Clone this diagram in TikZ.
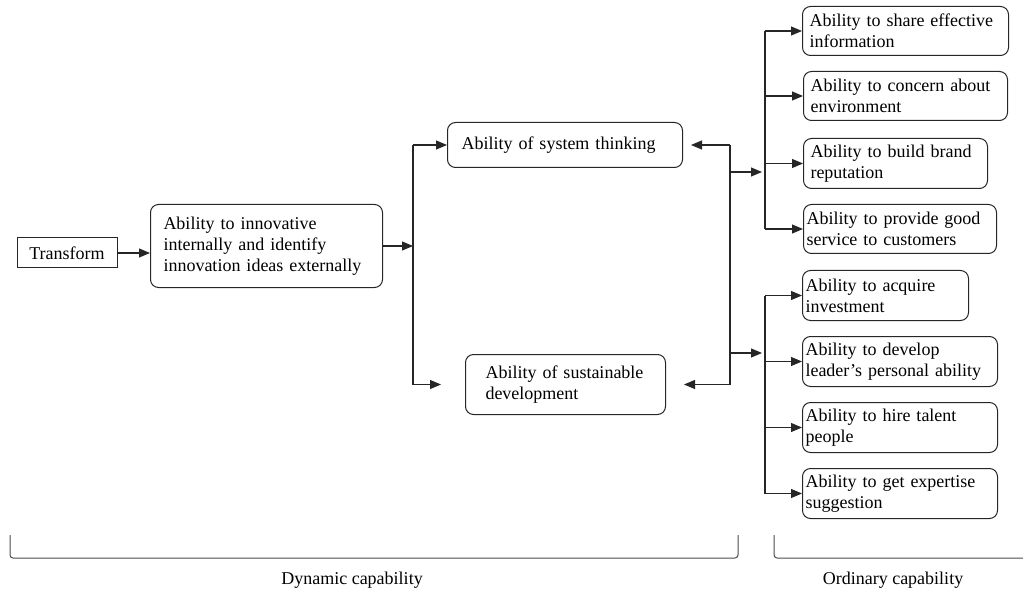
\documentclass[tikz,border=0pt]{standalone}
\usepackage{fontspec}
\setmainfont{Liberation Serif}
\usetikzlibrary{arrows.meta, positioning, calc}

\begin{document}
\begin{tikzpicture}[x=1pt, y=-1pt,
    abilitybox/.style={draw=black!85, rectangle, rounded corners=8pt, anchor=north west,
                align=left, inner ysep=2pt, line width=1pt,
                font=\fontsize{18}{21}\selectfont},
    sourcebox/.style={draw=black!85, rectangle, line width=1pt,
                font=\fontsize{18}{21}\selectfont},
    groupname/.style={font=\fontsize{18}{21}\selectfont},
    arrow/.style={-{Triangle[length=11pt,width=9pt]}, line width=1.1pt, draw=black!85},
    spine/.style={line width=1.1pt, draw=black!85},
    brace/.style={line width=1pt, draw=black!70, rounded corners=3pt}
]
\useasboundingbox (0,0) rectangle (1023,596);

%% ---- LEFT PART: Dynamic capability ----
\node [sourcebox, minimum width=100pt, minimum height=30pt] (transform) at (67,253) {Transform};
\node [abilitybox, text width=206pt, inner xsep=13pt, minimum height=83pt] (innovate) at (150,204)
      {Ability to innovative\\internally and identify\\innovation ideas externally};
\node [abilitybox, text width=207pt, inner xsep=14pt, minimum height=45pt] (system)  at (447,122)
      {Ability of system thinking};
\node [abilitybox, text width=160pt, inner xsep=20pt, minimum height=60pt] (sustain) at (465,354)
      {Ability of sustainable\\development};

%% ---- RIGHT PART: Ordinary capability (upper group) ----
\node [abilitybox, text width=192pt, inner xsep=7pt, minimum height=49pt] (share)   at (802,6)
      {Ability to share effective\\information};
\node [abilitybox, text width=190pt, inner xsep=7pt, minimum height=49pt] (concern) at (803,71)
      {Ability to concern about\\environment};
\node [abilitybox, text width=170pt, inner xsep=7pt, minimum height=50pt] (brand)   at (803,138)
      {Ability to build brand\\reputation};
\node [abilitybox, text width=187pt, inner xsep=3pt, minimum height=49pt] (service) at (803,204)
      {Ability to provide good\\service to customers};

%% ---- RIGHT PART: Ordinary capability (lower group) ----
\node [abilitybox, text width=160pt, inner xsep=3pt, minimum height=50pt] (invest) at (802,270)
      {Ability to acquire\\investment};
\node [abilitybox, text width=189pt, inner xsep=3pt, minimum height=50pt] (leader) at (802,336)
      {Ability to develop\\leader’s personal ability};
\node [abilitybox, text width=189pt, inner xsep=3pt, minimum height=50pt] (talent) at (802,402)
      {Ability to hire talent\\people};
\node [abilitybox, text width=189pt, inner xsep=3pt, minimum height=50pt] (expert) at (802,468)
      {Ability to get expertise\\suggestion};

%% ---- junction coordinates ----
\coordinate (split) at (413,0);
\coordinate (merge) at (730,0);
\coordinate (upper) at (765,172);
\coordinate (lower) at (765,353);

%% ---- LEFT ARROWS ----
\draw [arrow] (transform) -- (innovate.west |- transform);
\draw [arrow] (innovate.east) -- (innovate.east -| split);
\draw [spine] (split |- system.west) -- (split |- sustain.west);
\draw [arrow] (split |- system.west) -- (system.west);
\draw [arrow, shorten >=24pt] (split |- sustain.west) -- (sustain.west);

%% ---- MIDDLE ARROWS (back into the two abilities) ----
\draw [spine] (merge |- system.east) -- (merge |- sustain.east);
\draw [arrow, shorten >=8pt]  (merge |- system.east)  -- (system.east);
\draw [arrow, shorten >=18pt] (merge |- sustain.east) -- (sustain.east);
\draw [arrow, shorten >=3pt] (merge |- upper) -- (upper);
\draw [arrow, shorten >=3pt] (merge |- lower) -- (lower);

%% ---- RIGHT ARROWS ----
\draw [spine] (upper |- share.west) -- (upper |- service.west);
\foreach \b in {share,concern,brand,service}
    \draw [arrow] (upper |- \b.west) -- (\b.west);
\draw [spine] (lower |- invest.west) -- (lower |- expert.west);
\foreach \b in {invest,leader,talent,expert}
    \draw [arrow] (lower |- \b.west) -- (\b.west);

%% ---- BRACKETS ----
\draw [brace] (10,535) -- (10,558) -- (738,558) -- (738,535);
\draw [brace] (774,535) -- (774,558) -- (1023,558);
\node [groupname] (dynamic)  at (352,580) {Dynamic capability};
\node [groupname] (ordinary) at (893,580) {Ordinary capability};

\end{tikzpicture}
\end{document}
